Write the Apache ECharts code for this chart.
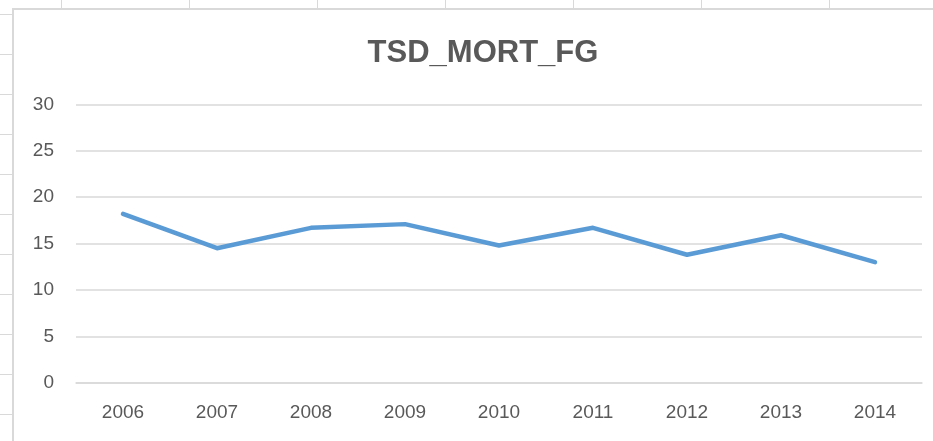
<!DOCTYPE html>
<html>
<head>
<meta charset="utf-8">
<script src="https://cdn.jsdelivr.net/npm/echarts@6/dist/echarts.min.js"></script>
<style>
  html, body { margin: 0; padding: 0; width: 933px; height: 441px; overflow: hidden; }
  body {
    position: relative;
    background-color: #ffffff;
    background-image:
      repeating-linear-gradient(to right, transparent 0px, transparent 61px, #d9d9d9 61px, #d9d9d9 62px, transparent 62px, transparent 128px),
      repeating-linear-gradient(to bottom, transparent 0px, transparent 14px, #d9d9d9 14px, #d9d9d9 15px, transparent 15px, transparent 40px);
    background-position: 0 0, 0 0;
  }
  #chart {
    position: absolute; left: 12px; top: 8px;
    width: 919px; height: 431px;
    border-top: 2px solid #d9d9d9; border-left: 2px solid #d9d9d9;
    background: #ffffff;
  }
</style>
</head>
<body>
<div id="chart"></div>
<script>
const titleText = 'TSD_MORT_FG';
const categories = ['2006', '2007', '2008', '2009', '2010', '2011', '2012', '2013', '2014'];
const values = [18.2, 14.5, 16.7, 17.1, 14.8, 16.7, 13.8, 15.9, 13.0];
const yTicks = { min: 0, max: 30, interval: 5 };

const chart = echarts.init(document.getElementById('chart'), null, { renderer: 'canvas' });
chart.setOption({
  animation: false,
  title: {
    text: titleText,
    left: 469, top: 28, textAlign: 'center', padding: 0,
    textStyle: { fontFamily: 'Liberation Sans', fontWeight: 'bold', fontSize: 31, color: '#595959' }
  },
  grid: { left: 62, right: 11, top: 94.5, bottom: 58.3, containLabel: false },
  xAxis: {
    type: 'category',
    data: categories,
    boundaryGap: true,
    axisLine: { show: true, lineStyle: { color: '#d9d9d9', width: 1.5 } },
    axisTick: { show: false },
    axisLabel: { color: '#595959', fontSize: 19, fontFamily: 'Liberation Sans', margin: 21 }
  },
  yAxis: {
    type: 'value',
    min: yTicks.min, max: yTicks.max, interval: yTicks.interval,
    axisLine: { show: false },
    axisTick: { show: false },
    splitLine: { lineStyle: { color: '#d9d9d9', width: 1.5 } },
    axisLabel: { color: '#595959', fontSize: 19, fontFamily: 'Liberation Sans', margin: 22 }
  },
  series: [{
    type: 'line',
    data: values,
    showSymbol: false,
    symbol: 'none',
    lineStyle: { color: '#5b9bd5', width: 4.5, cap: 'round', join: 'round' },
    itemStyle: { color: '#5b9bd5' }
  }]
});
</script>
</body>
</html>
